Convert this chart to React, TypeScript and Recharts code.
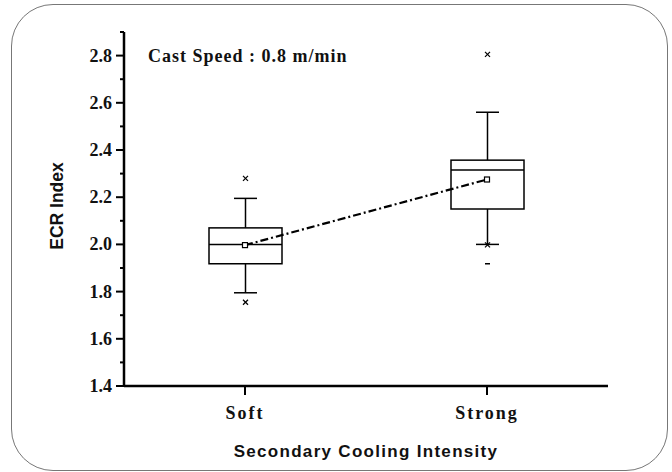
import React from 'react';
import { ComposedChart, Bar, Line, XAxis, YAxis } from 'recharts';

// Box statistics per cooling intensity
const categories = ['Soft', 'Strong'];
const whiskerLow = [1.795, 2.0];
const quartile1 = [1.918, 2.15];
const medians = [2.0, 2.315];
const quartile3 = [2.07, 2.357];
const whiskerHigh = [2.195, 2.56];
const means = [1.997, 2.275];
// 1% / 99% markers (crosses) and extreme markers (dashes)
const crossMarks = [[2.28, 1.755], [2.805, 1.998]];
const dashMarks = [[], [1.918]];

const yTicks = [1.4, 1.5, 1.6, 1.7, 1.8, 1.9, 2.0, 2.1, 2.2, 2.3, 2.4, 2.5, 2.6, 2.7, 2.8, 2.9];

const data = categories.map((cat, i) => ({
  cat,
  low: whiskerLow[i],
  q1: quartile1[i],
  median: medians[i],
  q3: quartile3[i],
  high: whiskerHigh[i],
  mean: means[i],
  crosses: crossMarks[i],
  dashes: dashMarks[i],
}));

const serif = '"Liberation Serif", "Times New Roman", serif';
const sans = '"Liberation Sans", Arial, sans-serif';

// Draws a box-and-whisker glyph; the bar spans [low, high] on the value axis,
// so its pixel extent gives the linear mapping for the inner statistics.
const BoxShape = (props: any) => {
  const { x, y, width, height, payload } = props;
  const top = Math.min(y, y + height);
  const bottom = Math.max(y, y + height);
  const span = payload.high - payload.low;
  const pxPer = (bottom - top) / span;
  const toY = (v: number) => top + (payload.high - v) * pxPer;
  const cx = x + width / 2;
  const capHalf = 11.5;
  const yQ1 = toY(payload.q1);
  const yQ3 = toY(payload.q3);
  const yMed = toY(payload.median);
  const sw = 1.5;
  return (
    <g stroke="#000" strokeWidth={sw} fill="none">
      <line x1={cx} x2={cx} y1={toY(payload.high)} y2={yQ3} />
      <line x1={cx} x2={cx} y1={yQ1} y2={toY(payload.low)} />
      <line x1={cx - capHalf} x2={cx + capHalf} y1={toY(payload.high)} y2={toY(payload.high)} />
      <line x1={cx - capHalf} x2={cx + capHalf} y1={toY(payload.low)} y2={toY(payload.low)} />
      <rect x={x} y={yQ3} width={width} height={yQ1 - yQ3} fill="#fff" />
      <line x1={x} x2={x + width} y1={yMed} y2={yMed} />
      {payload.crosses.map((v: number, k: number) => {
        const py = toY(v);
        return (
          <g key={'c' + k} strokeWidth={1.2}>
            <line x1={cx - 2.5} x2={cx + 2.5} y1={py - 2.5} y2={py + 2.5} />
            <line x1={cx - 2.5} x2={cx + 2.5} y1={py + 2.5} y2={py - 2.5} />
          </g>
        );
      })}
      {payload.dashes.map((v: number, k: number) => {
        const py = toY(v);
        return <line key={'d' + k} x1={cx - 2.5} x2={cx + 2.5} y1={py} y2={py} strokeWidth={1.5} />;
      })}
    </g>
  );
};

const MeanDot = (props: any) => {
  const { cx, cy } = props;
  return <rect x={cx - 2.5} y={cy - 2.5} width={5} height={5} fill="#fff" stroke="#000" strokeWidth={1.2} />;
};

const YTick = (props: any) => {
  const { x, y, payload } = props;
  const v = payload.value as number;
  const major = Math.round(v * 10) % 2 === 0;
  return (
    <g>
      <line x1={x - (major ? 8 : 4)} x2={x} y1={y} y2={y} stroke="#000" strokeWidth={2} />
      {major && (
        <text x={x - 12} y={y} dy={6} textAnchor="end" fontFamily={serif} fontWeight="bold" fontSize={18} fill="#111">
          {v.toFixed(1)}
        </text>
      )}
    </g>
  );
};

const XTick = (props: any) => {
  const { x, y, payload } = props;
  return (
    <g>
      <line x1={x} x2={x} y1={y} y2={y + 9} stroke="#000" strokeWidth={2} />
      <text x={x} y={y + 33} textAnchor="middle" fontFamily={serif} fontWeight="bold" fontSize={18} letterSpacing={2} fill="#111">
        {payload.value}
      </text>
    </g>
  );
};

const XTitle = (props: any) => {
  const { viewBox } = props;
  return (
    <text x={viewBox.x + viewBox.width / 2} y={457} textAnchor="middle" fontFamily={sans} fontWeight="bold" fontSize={17} letterSpacing={1.3} fill="#111">
      Secondary Cooling Intensity
    </text>
  );
};

const YTitle = () => {
  return (
    <text x={0} y={0} transform="translate(63, 206) rotate(-90)" textAnchor="middle" fontFamily={sans} fontWeight="bold" fontSize={17.5} fill="#111">
      ECR Index
    </text>
  );
};

export default function App() {
  return (
    <div style={{ position: 'absolute', left: 0, top: 0, width: 672, height: 472, background: '#fff' }}>
      <div
        style={{
          position: 'absolute',
          left: 11,
          top: 4,
          width: 655,
          height: 465,
          border: '1.5px solid #777',
          borderRadius: 42,
        }}
      />
      <div style={{ position: 'absolute', left: 0, top: 0 }}>
        <ComposedChart width={672} height={472} data={data} margin={{ top: 32, right: 64, bottom: 0, left: 0 }}>
          <XAxis
            dataKey="cat"
            height={86}
            tickSize={0}
            tickMargin={0}
            tick={<XTick />}
            tickLine={false}
            axisLine={{ stroke: '#000', strokeWidth: 2.5 }}
            label={<XTitle />}
          />
          <XAxis xAxisId="top" dataKey="cat" orientation="top" height={0} tick={false} tickLine={false} axisLine={{ stroke: '#444', strokeWidth: 2 }} />
          <YAxis
            domain={[1.4, 2.9]}
            ticks={yTicks}
            interval={0}
            width={124}
            tickSize={0}
            tickMargin={0}
            tick={<YTick />}
            tickLine={false}
            axisLine={{ stroke: '#000', strokeWidth: 2.5 }}
            label={<YTitle />}
          />
          <YAxis yAxisId="right" orientation="right" width={0} tick={false} tickLine={false} axisLine={{ stroke: '#000', strokeWidth: 2 }} />
          <Bar dataKey={(d: any) => [d.low, d.high]} barSize={73} shape={<BoxShape />} isAnimationActive={false} />
          <Line
            dataKey="mean"
            stroke="#000"
            strokeWidth={2.2}
            strokeDasharray="8 3 2 3"
            dot={<MeanDot />}
            activeDot={false}
            isAnimationActive={false}
          />
        </ComposedChart>
      </div>
      <div
        style={{
          position: 'absolute',
          left: 148,
          top: 46,
          fontFamily: serif,
          fontWeight: 'bold',
          fontSize: 18,
          color: '#111',
          whiteSpace: 'nowrap',
          letterSpacing: 1,
        }}
      >
        Cast Speed : 0.8 m/min
      </div>
    </div>
  );
}
